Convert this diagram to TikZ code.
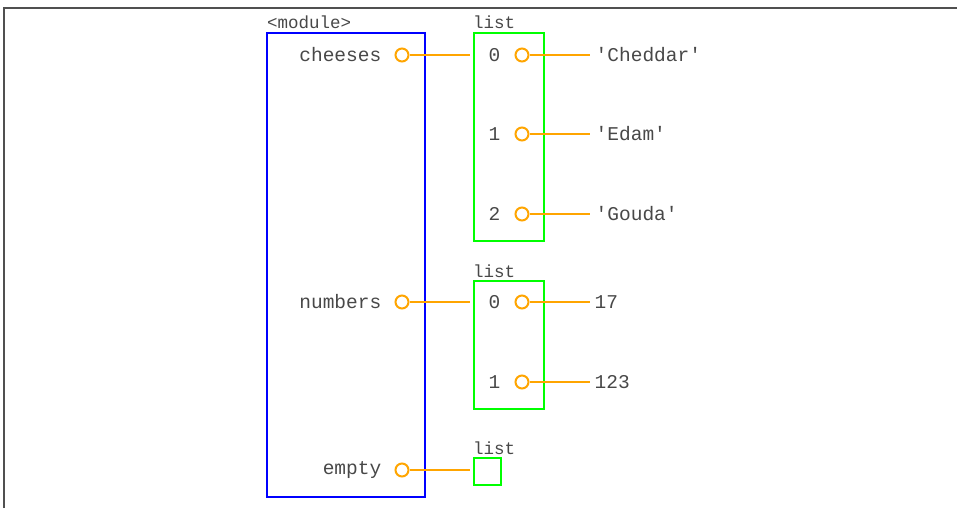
\documentclass[tikz,border=0pt]{standalone}
\usepackage{fontspec}
\setmonofont{Liberation Mono}
\usetikzlibrary{positioning}
\definecolor{refline}{HTML}{FFA500}
\definecolor{listbox}{HTML}{00FF00}
\definecolor{modbox}{HTML}{0000FF}
\definecolor{textgray}{HTML}{484848}
\definecolor{framegray}{HTML}{505050}
\begin{document}
\begin{tikzpicture}
[x=1pt,y=-1pt,%
  vartext/.style={font=\ttfamily\fontsize{19.5}{20}\selectfont,text=textgray,inner sep=0pt},%
  boxtitle/.style={font=\ttfamily\fontsize{17.5}{18}\selectfont,text=textgray,inner sep=0pt,anchor=base west,yshift=3pt},%
  objbox/.style={draw,line width=2pt,inner sep=0pt,anchor=north west},%
  ref/.style={circle,draw=refline,line width=2pt,minimum size=13pt,inner sep=0pt},%
  pointer/.style={draw=refline,line width=2pt}]
\useasboundingbox (0,0) rectangle (957,508);
\draw[framegray,line width=1.5pt] (4,508) -- (4,8) -- (957,8);
% module frame
\node[objbox,draw=modbox,minimum width=158pt,minimum height=464pt] (module) at (266,32) {};
\node[boxtitle] at ([xshift=1pt]module.north west) {<module>};
\node[ref] (cheeses) at (402,55) {};
\node[vartext,left=13pt of cheeses] {cheeses};
\node[ref] (numbers) at (402,302) {};
\node[vartext,left=13pt of numbers] {numbers};
\node[ref] (empty) at (402,470) {};
\node[vartext,left=13pt of empty] {empty};
% lists
\node[objbox,draw=listbox,minimum width=70pt,minimum height=208pt] (list1) at (473,32) {};
\node[boxtitle] at (list1.north west) {list};
\node[ref] (c0) at (522,55) {};
\node[vartext,left=14pt of c0] {0};
\node[vartext,right=66pt of c0] (cheddar) {'Cheddar'};
\node[ref] (c1) at (522,134) {};
\node[vartext,left=14pt of c1] {1};
\node[vartext,right=66pt of c1] (edam) {'Edam'};
\node[ref] (c2) at (522,214) {};
\node[vartext,left=14pt of c2] {2};
\node[vartext,right=66pt of c2] (gouda) {'Gouda'};
\node[objbox,draw=listbox,minimum width=70pt,minimum height=128pt] (list2) at (473,280) {};
\node[boxtitle] at (list2.north west) {list};
\node[ref] (n0) at (522,302) {};
\node[vartext,left=14pt of n0] {0};
\node[vartext,right=65pt of n0] (seventeen) {17};
\node[ref] (n1) at (522,382) {};
\node[vartext,left=14pt of n1] {1};
\node[vartext,right=65pt of n1] (onetwothree) {123};
\node[objbox,draw=listbox,minimum width=27pt,minimum height=27pt] (list3) at (473,457) {};
\node[boxtitle] at (list3.north west) {list};
% references
\draw[pointer,shorten >=3pt] (cheeses) -- (list1.west |- cheeses);
\draw[pointer,shorten >=3pt] (numbers) -- (list2.west |- numbers);
\draw[pointer,shorten >=3pt] (empty) -- (list3.west |- empty);
\draw[pointer,shorten >=6pt] (c0) -- (cheddar);
\draw[pointer,shorten >=6pt] (c1) -- (edam);
\draw[pointer,shorten >=6pt] (c2) -- (gouda);
\draw[pointer,shorten >=5pt] (n0) -- (seventeen);
\draw[pointer,shorten >=5pt] (n1) -- (onetwothree);
\end{tikzpicture}
\end{document}
